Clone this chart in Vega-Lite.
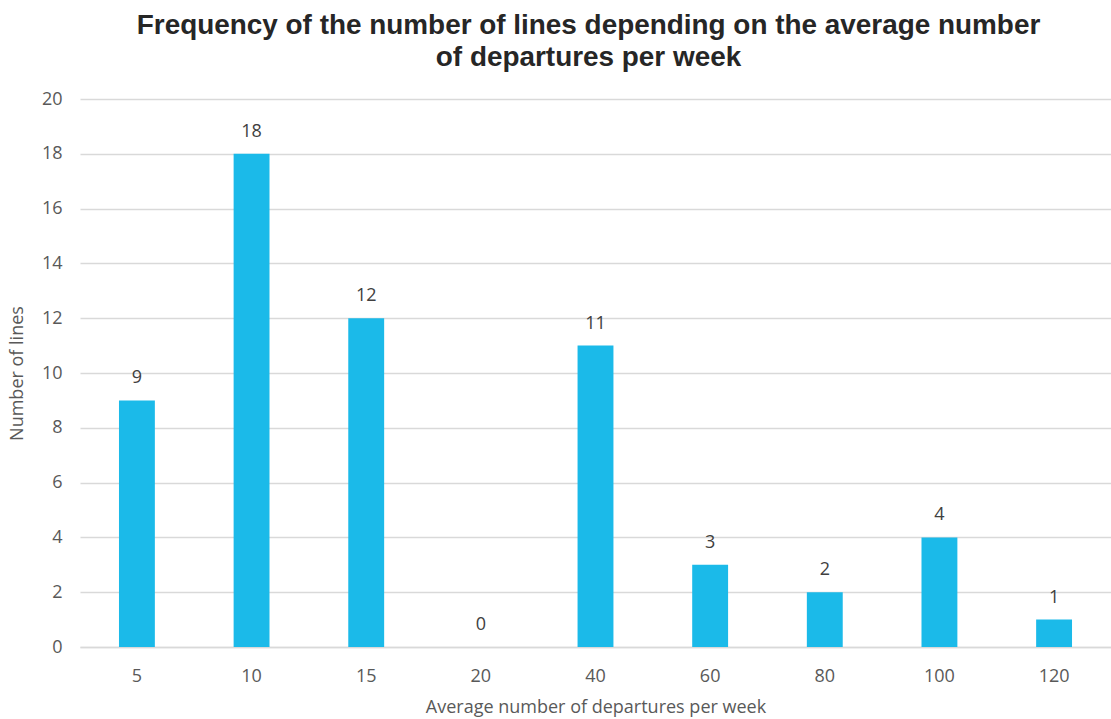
{
  "$schema": "https://vega.github.io/schema/vega-lite/v6.json",
  "width": 1031,
  "height": 548,
  "autosize": {"type": "none"},
  "padding": {"left": 80, "top": 99, "right": 0, "bottom": 72},
  "background": "white",
  "config": {"view": {"stroke": null}, "font": "Liberation Sans"},
  "title": {
    "text": ["Frequency of the number of lines depending on the average number", "of departures per week"],
    "fontSize": 27.9,
    "fontWeight": "bold",
    "font": "Liberation Sans",
    "color": "#262626",
    "anchor": "middle",
    "lineHeight": 32,
    "offset": 18,
    "dx": -7
  },
  "data": {
    "values": [
      {"departures": "5", "lines": 9},
      {"departures": "10", "lines": 18},
      {"departures": "15", "lines": 12},
      {"departures": "20", "lines": 0},
      {"departures": "40", "lines": 11},
      {"departures": "60", "lines": 3},
      {"departures": "80", "lines": 2},
      {"departures": "100", "lines": 4},
      {"departures": "120", "lines": 1}
    ]
  },
  "encoding": {
    "x": {
      "field": "departures",
      "type": "ordinal",
      "sort": null,
      "scale": {"paddingInner": 0.687, "paddingOuter": 0.34},
      "axis": {
        "title": "Average number of departures per week",
        "titleFont": "Open Sans",
        "titleFontSize": 18,
        "titleFontWeight": "normal",
        "titleColor": "#595959",
        "titlePadding": 13,
        "labelAngle": 0,
        "labelFont": "Open Sans",
        "labelFontSize": 18,
        "labelColor": "#595959",
        "labelPadding": 20,
        "ticks": false,
        "domain": true,
        "domainColor": "#d9d9d9",
        "domainWidth": 1.5
      }
    },
    "y": {
      "field": "lines",
      "type": "quantitative",
      "scale": {"domain": [0, 20]},
      "axis": {
        "title": "Number of lines",
        "titleFont": "Open Sans",
        "titleFontSize": 18,
        "titleFontWeight": "normal",
        "titleColor": "#595959",
        "titlePadding": 15,
        "values": [0, 2, 4, 6, 8, 10, 12, 14, 16, 18, 20],
        "labelFont": "Open Sans",
        "labelFontSize": 18,
        "labelColor": "#595959",
        "labelPadding": 18,
        "ticks": false,
        "domain": false,
        "grid": true,
        "gridColor": "#d9d9d9",
        "gridWidth": 1.5
      }
    }
  },
  "layer": [
    {"mark": {"type": "bar", "color": "#1bbae9"}},
    {
      "mark": {"type": "text", "baseline": "bottom", "dy": -13, "font": "Open Sans", "fontSize": 18, "color": "#404040"},
      "encoding": {"text": {"field": "lines", "type": "quantitative"}}
    }
  ]
}
